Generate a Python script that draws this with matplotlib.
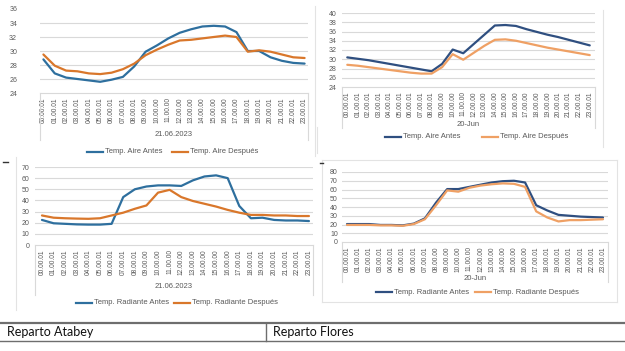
import matplotlib
matplotlib.use("Agg")
import matplotlib.pyplot as plt
from matplotlib.lines import Line2D

plt.rcParams['font.family'] = ['Liberation Sans', 'DejaVu Sans']

hours = list(range(24))

# Tick labels
labels_a1 = [f"{h:02d}.00.{'00' if 9 <= h <= 17 else '01'}" for h in hours]
labels_f1 = [f"{h:02d}.00.{'00' if 9 <= h <= 19 else '01'}" for h in hours]
labels_a2 = [f"{h:02d}.00.{'00' if 9 <= h <= 16 else '01'}" for h in hours]
labels_f2 = [f"{h:02d}.00.{'00' if 8 <= h <= 16 else '01'}" for h in hours]

# Reparto Atabey - air temperature
aire_atabey_antes = [28.8, 26.8, 26.2, 26.0, 25.8, 25.6, 25.9, 26.3, 27.8, 29.9, 30.8, 31.8,
                     32.6, 33.1, 33.5, 33.6, 33.5, 32.7, 30.0, 30.0, 29.1, 28.6, 28.3, 28.2]
aire_atabey_desp = [29.5, 27.9, 27.2, 27.1, 26.8, 26.7, 26.9, 27.4, 28.2, 29.4, 30.2, 30.9,
                    31.5, 31.6, 31.8, 32.0, 32.2, 32.0, 29.9, 30.1, 29.9, 29.5, 29.1, 29.0]

# Reparto Flores - air temperature
aire_flores_antes = [30.4, 30.1, 29.8, 29.4, 29.0, 28.6, 28.2, 27.8, 27.4, 29.0, 32.1, 31.3,
                     33.3, 35.3, 37.3, 37.4, 37.2, 36.5, 35.9, 35.3, 34.8, 34.2, 33.6, 33.0]
aire_flores_desp = [28.8, 28.6, 28.3, 28.0, 27.7, 27.4, 27.1, 26.9, 26.9, 28.3, 31.1, 29.9,
                    31.4, 32.9, 34.2, 34.3, 34.0, 33.5, 33.0, 32.5, 32.1, 31.7, 31.3, 30.9]

# Reparto Atabey - radiant temperature
rad_atabey_antes = [22.5, 19.5, 19.0, 18.5, 18.3, 18.3, 19.0, 43.0, 50.0, 52.5, 53.5, 53.5,
                    53.0, 58.0, 61.5, 62.5, 60.0, 35.0, 24.0, 24.5, 22.5, 22.0, 22.0, 21.5]
rad_atabey_desp = [26.5, 24.5, 24.0, 23.7, 23.5, 24.0, 26.5, 29.0, 32.5, 35.5, 47.0, 49.5,
                   43.0, 39.5, 37.0, 34.5, 31.5, 29.0, 27.0, 27.0, 26.5, 26.5, 26.0, 26.0]

# Reparto Flores - radiant temperature
rad_flores_antes = [20.5, 20.5, 20.5, 19.5, 19.5, 19.0, 21.0, 27.0, 45.0, 60.5, 60.5, 63.0,
                    65.5, 68.0, 69.5, 70.0, 68.0, 42.0, 36.0, 31.0, 30.0, 29.0, 28.5, 28.0]
rad_flores_desp = [19.5, 19.5, 19.5, 19.0, 19.0, 18.5, 20.5, 26.0, 42.0, 59.0, 57.5, 62.0,
                   64.5, 66.0, 67.0, 66.5, 63.0, 35.0, 28.0, 23.5, 25.0, 25.0, 25.5, 26.0]

W, H = 625, 351
fig = plt.figure(figsize=(W / 100, H / 100), dpi=100)
fig.patch.set_facecolor("white")

GRID = "#D9D9D9"
TXT = "#595959"


def px_axes(l, t, r, b):
    return fig.add_axes([l / W, 1 - b / H, (r - l) / W, (b - t) / H])


def fig_line(x0, y0, x1, y1, color="#D9D9D9", lw=0.8):
    fig.add_artist(Line2D([x0 / W, x1 / W], [1 - y0 / H, 1 - y1 / H],
                          transform=fig.transFigure, color=color, lw=lw))


def make_chart(box, xlim, ylim, yticks, labels, s1, s2, c1, c2, n1, n2, date,
               date_y, leg_y, leg_x, box_bottom, ypad, hide_top=False):
    l, t, r, b = box
    ax = px_axes(l, t, r, b)
    ax.plot(hours, s1, color=c1, lw=1.6, solid_capstyle="round")
    ax.plot(hours, s2, color=c2, lw=1.6, solid_capstyle="round")
    ax.set_xlim(*xlim)
    ax.set_ylim(*ylim)
    ax.set_yticks(yticks)
    ax.set_yticklabels([str(v) for v in yticks], fontsize=5, color=TXT)
    ax.set_xticks(hours)
    ax.set_xticklabels(labels, rotation=90, fontsize=4.8, color=TXT)
    ax.tick_params(axis="both", length=0, pad=3)
    ax.tick_params(axis="y", pad=ypad)
    for yv in yticks[1:]:
        if hide_top and yv == yticks[-1]:
            continue
        ax.axhline(yv, color=GRID, lw=0.8, zorder=0)
    for s in ["top", "right", "left"]:
        ax.spines[s].set_visible(False)
    ax.spines["bottom"].set_color(GRID)
    ax.spines["bottom"].set_linewidth(0.8)
    ax.patch.set_alpha(0)
    # category box lines
    fig_line(l, b, l, box_bottom)
    fig_line(r, b, r, box_bottom)
    # date label
    fig.text(((l + r) / 2) / W, 1 - date_y / H, date, fontsize=5.5, color=TXT,
             ha="center", va="center")
    # legend
    lx1, lx2 = leg_x
    fig_line(lx1, leg_y, lx1 + 16, leg_y, color=c1, lw=1.6)
    fig.text((lx1 + 18) / W, 1 - leg_y / H, n1, fontsize=5.5, color=TXT,
             ha="left", va="center")
    fig_line(lx2, leg_y, lx2 + 16, leg_y, color=c2, lw=1.6)
    fig.text((lx2 + 18) / W, 1 - leg_y / H, n2, fontsize=5.5, color=TXT,
             ha="left", va="center")
    return ax


BLUE1 = "#2E6F9E"
ORANGE1 = "#D9772B"
BLUE2 = "#2F4F80"
ORANGE2 = "#EFA064"

# Top-left: Atabey air
make_chart((40, 9, 308, 93), (-0.3, 23.3), (24, 36), [24, 26, 28, 30, 32, 34, 36],
           labels_a1, aire_atabey_antes, aire_atabey_desp, BLUE1, ORANGE1,
           "Temp. Aire Antes", "Temp. Aire Después", "21.06.2023",
           135, 152, (87, 172), 140, ypad=16.5, hide_top=True)

# Top-right: Flores air
make_chart((342, 13, 595, 87), (-0.5, 23.5), (24, 40), [24, 26, 28, 30, 32, 34, 36, 38, 40],
           labels_f1, aire_flores_antes, aire_flores_desp, BLUE2, ORANGE2,
           "Temp. Aire Antes", "Temp. Aire Después", "20-Jun",
           125, 137, (385, 482), 128, ypad=4)

# Bottom-left: Atabey radiant
make_chart((35, 167, 313, 245), (-0.6, 23.35), (0, 70), [0, 10, 20, 30, 40, 50, 60, 70],
           labels_a2, rad_atabey_antes, rad_atabey_desp, BLUE1, ORANGE1,
           "Temp. Radiante Antes", "Temp. Radiante Después", "21.06.2023",
           287, 303, (76, 174), 295, ypad=4)

# Bottom-right: Flores radiant
make_chart((342, 172, 608, 242), (-0.45, 23.45), (0, 80), [0, 10, 20, 30, 40, 50, 60, 70, 80],
           labels_f2, rad_flores_antes, rad_flores_desp, BLUE2, ORANGE2,
           "Temp. Radiante Antes", "Temp. Radiante Después", "20-Jun",
           278, 292, (376, 475), 282, ypad=3)

# Chart frames (faint)
fig_line(315, 6, 315, 156, color="#E3E3E3")
fig_line(603, 10, 603, 147, color="#E3E3E3")
fig_line(317, 127, 317, 153, color="#E3E3E3")
fig_line(16, 157, 16, 310, color="#E3E3E3")
fig_line(322, 160, 617, 160, color="#E3E3E3")
fig_line(617, 160, 617, 302, color="#E3E3E3")
fig_line(322, 302, 617, 302, color="#E3E3E3")
fig_line(322, 160, 322, 302, color="#E3E3E3")
# small dashes
fig_line(3, 162, 8, 162, color="#333333", lw=1.0)
fig_line(320, 163, 323, 163, color="#333333", lw=1.0)

# Bottom table
fig_line(0, 323, 625, 323, color="#6E6E6E", lw=1.6)
fig_line(0, 341, 625, 341, color="#6E6E6E", lw=1.0)
fig_line(266, 323, 266, 341, color="#6E6E6E", lw=1.0)
fig.text(7 / W, 1 - 332.5 / H, "Reparto Atabey", fontsize=9, color="#111111",
         ha="left", va="center", family=["Lato", "DejaVu Sans"])
fig.text(273 / W, 1 - 332.5 / H, "Reparto Flores", fontsize=9, color="#111111",
         ha="left", va="center", family=["Lato", "DejaVu Sans"])

fig.savefig("out.png", dpi=100, facecolor="white")
